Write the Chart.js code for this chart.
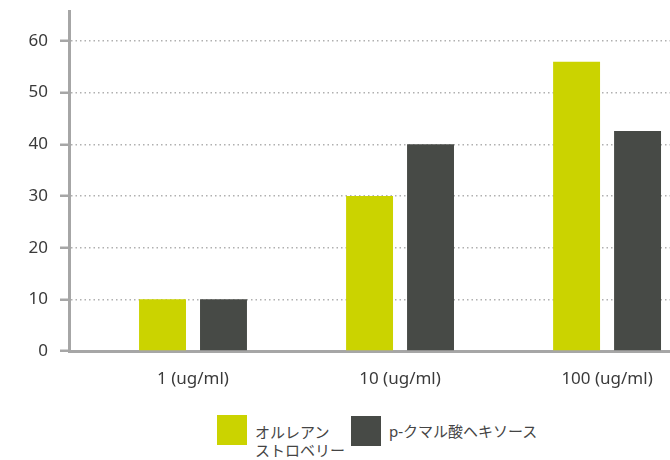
<!DOCTYPE html>
<html>
<head>
<meta charset="utf-8">
<script src="https://cdn.jsdelivr.net/npm/chart.js@4"></script>
<style>
  html, body { margin: 0; padding: 0; background: #fff; overflow: hidden; }
  #wrap { position: relative; width: 670px; height: 460px; }
  #chart { position: absolute; left: 0; top: 0; }
  .lg-box { position: absolute; width: 30px; height: 30px; }
  .lg-text { position: absolute; font: 15px 'Noto Sans', 'Noto Sans CJK JP', sans-serif; color: #444; line-height: 18px; }
</style>
</head>
<body>
<div id="wrap">
  <canvas id="chart" width="670" height="400"></canvas>
  <div class="lg-box" style="left:217px;top:415px;background:#cbd300"></div>
  <div class="lg-text" style="left:255px;top:423px">オルレアン<br>ストロベリー</div>
  <div class="lg-box" style="left:351px;top:416px;background:#474a46"></div>
  <div class="lg-text" style="left:389px;top:422px">p-クマル酸ヘキソース</div>
</div>
<script>
// ---------- data ----------
const categories = ["1 (ug/ml)", "10 (ug/ml)", "100 (ug/ml)"];
const strawberry = [10, 30, 56];
const coumaric = [10, 40, 42.6];
const yTicks = [0, 10, 20, 30, 40, 50, 60];

const axisGray = "#a6a6a6";
const fontFamily = "'Noto Sans', 'Noto Sans CJK JP', sans-serif";

// bars sit on a linear x scale so the group positions can be shifted freely
const toPoints = arr => arr.map((v, i) => ({ x: i, y: v }));

new Chart(document.getElementById("chart"), {
    type: "bar",
    data: {
        datasets: [{
            label: "オルレアン ストロベリー",
            data: toPoints(strawberry),
            backgroundColor: "#cbd300",
            borderWidth: 0
        }, {
            label: "p-クマル酸ヘキソース",
            data: toPoints(coumaric),
            backgroundColor: "#474a46",
            borderWidth: 0
        }]
    },
    options: {
        responsive: false,
        animation: false,
        layout: { padding: { top: 11, right: 0, left: 0, bottom: 0 } },
        categoryPercentage: 0.589,
        barPercentage: 0.77,
        plugins: {
            legend: { display: false },
            tooltip: { enabled: false }
        },
        scales: {
            x: {
                type: "linear",
                offset: false,
                min: -0.599,
                max: 2.304,
                afterBuildTicks: s => { s.ticks = categories.map((c, i) => ({ value: i })); },
                afterFit: s => { s.height = 49; s.paddingLeft = 0; s.paddingRight = 0; },
                grid: { display: false, offset: false },
                border: { color: axisGray, width: 3 },
                ticks: {
                    padding: 10,
                    color: "#3a3a3a",
                    font: { family: fontFamily, size: 17 },
                    callback: v => categories[v]
                }
            },
            y: {
                min: 0,
                max: 65.8,
                afterBuildTicks: s => { s.ticks = yTicks.map(v => ({ value: v })); },
                // keep the plot top fixed; the tick labels don't need extra room
                afterFit: s => { s.width = 69; s.paddingTop = 0; s.paddingBottom = 0; },
                grid: {
                    color: "#b0b0b0",
                    lineWidth: 1.5,
                    tickLength: 9,
                    tickColor: axisGray,
                    tickWidth: 2.5,
                    tickBorderDash: []
                },
                border: { color: axisGray, width: 3, dash: [1.5, 3] },
                ticks: {
                    padding: 12,
                    color: "#3a3a3a",
                    font: { family: fontFamily, size: 17 }
                }
            }
        }
    }
});
</script>
</body>
</html>
